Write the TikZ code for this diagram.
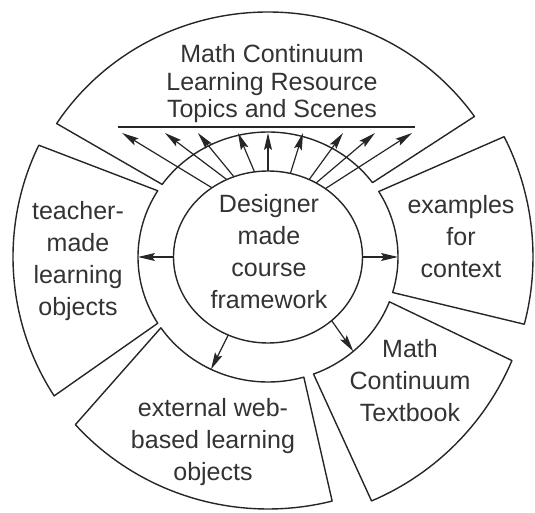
\documentclass[tikz,border=0pt]{standalone}
\usepackage{fontspec}
\setmainfont{Liberation Sans}
\usepackage{tikz}
\usetikzlibrary{arrows.meta,shapes.geometric}

\definecolor{inkline}{gray}{0.15}
\definecolor{inktext}{gray}{0.2}

\begin{document}
\begin{tikzpicture}[
    x=1pt, y=1pt, >=Stealth,
    font=\fontsize{25}{32}\selectfont,
    sector/.style={draw=inkline, line width=1.4pt, line join=round},
    hub/.style={ellipse, draw=inkline, line width=1.4pt, minimum width=189pt,
                minimum height=172pt, inner sep=0pt, outer sep=0pt},
    txt/.style={text=inktext, align=center, inner sep=0pt},
    feed/.style={-{Stealth[length=17pt,width=8pt,inset=3pt]}, draw=inkline, line width=1.2pt},
    bar/.style={draw=inkline, line width=2.4pt}
  ]
  \useasboundingbox (-268,-256) rectangle (267,257);

  % --- outer sectors, inner edges follow the ring ---
  % learning resource topics (top)
  \draw[sector] (36.5:130pt and 125pt) -- (35:252pt and 245pt)
    arc[start angle=35, end angle=147, x radius=252pt, y radius=245pt]
    -- (144.5:130pt and 125pt)
    arc[start angle=144.5, end angle=36.5, x radius=130pt, y radius=125pt] -- cycle;
  % teacher-made objects (left)
  \draw[sector] (148:130pt and 125pt) -- (154:255pt)
    arc[start angle=154, end angle=213, radius=255pt]
    -- (212:130pt and 125pt)
    arc[start angle=212, end angle=148, x radius=130pt, y radius=125pt] -- cycle;
  % examples (right)
  \draw[sector] (-16.5:130pt and 125pt) -- (-14.7:265pt)
    arc[start angle=-14.7, end angle=27, radius=265pt]
    -- (31.6:130pt and 125pt)
    arc[start angle=31.6, end angle=-16.5, x radius=130pt, y radius=125pt] -- cycle;
  % textbook (lower right)
  \draw[sector] (-69.5:130pt and 125pt) -- (-67:265pt)
    arc[start angle=-67, end angle=-23, radius=265pt]
    -- (-21:130pt and 125pt)
    arc[start angle=-21, end angle=-69.5, x radius=130pt, y radius=125pt] -- cycle;
  % external web objects (bottom)
  \draw[sector] (-145.5:130pt and 125pt) -- (-138.3:258pt and 252pt)
    arc[start angle=-138.3, end angle=-75.6, x radius=258pt, y radius=252pt]
    -- (-74:130pt and 125pt)
    arc[start angle=-74, end angle=-145.5, x radius=130pt, y radius=125pt] -- cycle;

  % --- course framework hub ---
  \node[hub] (hub) at (0,0) {};
  \node[txt] (hubtext) at (1,5) {Designer\\made\\course\\framework};

  % --- sector texts ---
  \node[txt, font=\fontsize{25}{27.5}\selectfont] (topics) at (4,173)
       {Math Continuum\\Learning Resource\\Topics and Scenes};
  \node[txt] (teacher)  at (-190,-4.5) {teacher-\\made\\learning\\objects};
  \node[txt] (examples) at (193,20.5)  {examples\\for\\context};
  \node[txt] (textbook) at (142,-123.5) {Math\\Continuum\\Textbook};
  \node[txt] (external) at (-55,-185)  {external web-\\based learning\\objects};

  % topic bar with the fan of arrows below it
  \coordinate (barW) at (-150,130);
  \coordinate (barE) at (147,130);
  \draw[bar] (barW) -- (barE);
  \foreach \ang/\x [count=\i] in {129.6/-146, 118.6/-103, 113.2/-70, 99.8/-30,
                                  90/0, 75.8/35, 62.9/75, 57/107, 50.2/144} {
    \coordinate (tip\i) at (\x,124);
    \draw[feed] (hub.\ang) -- (tip\i);
  }

  % arrows out to the ring
  \coordinate (ringW)  at (180:130pt and 125pt);
  \coordinate (ringE)  at (0:130pt and 125pt);
  \coordinate (ringSW) at (244:130pt and 125pt);
  \coordinate (ringSE) at (-49:130pt and 125pt);
  \draw[feed] (hub.180) -- (ringW);
  \draw[feed] (hub.0)   -- (ringE);
  \draw[feed] (hub.243) -- (ringSW);
  \draw[feed] (hub.315) -- (ringSE);

\end{tikzpicture}
\end{document}
